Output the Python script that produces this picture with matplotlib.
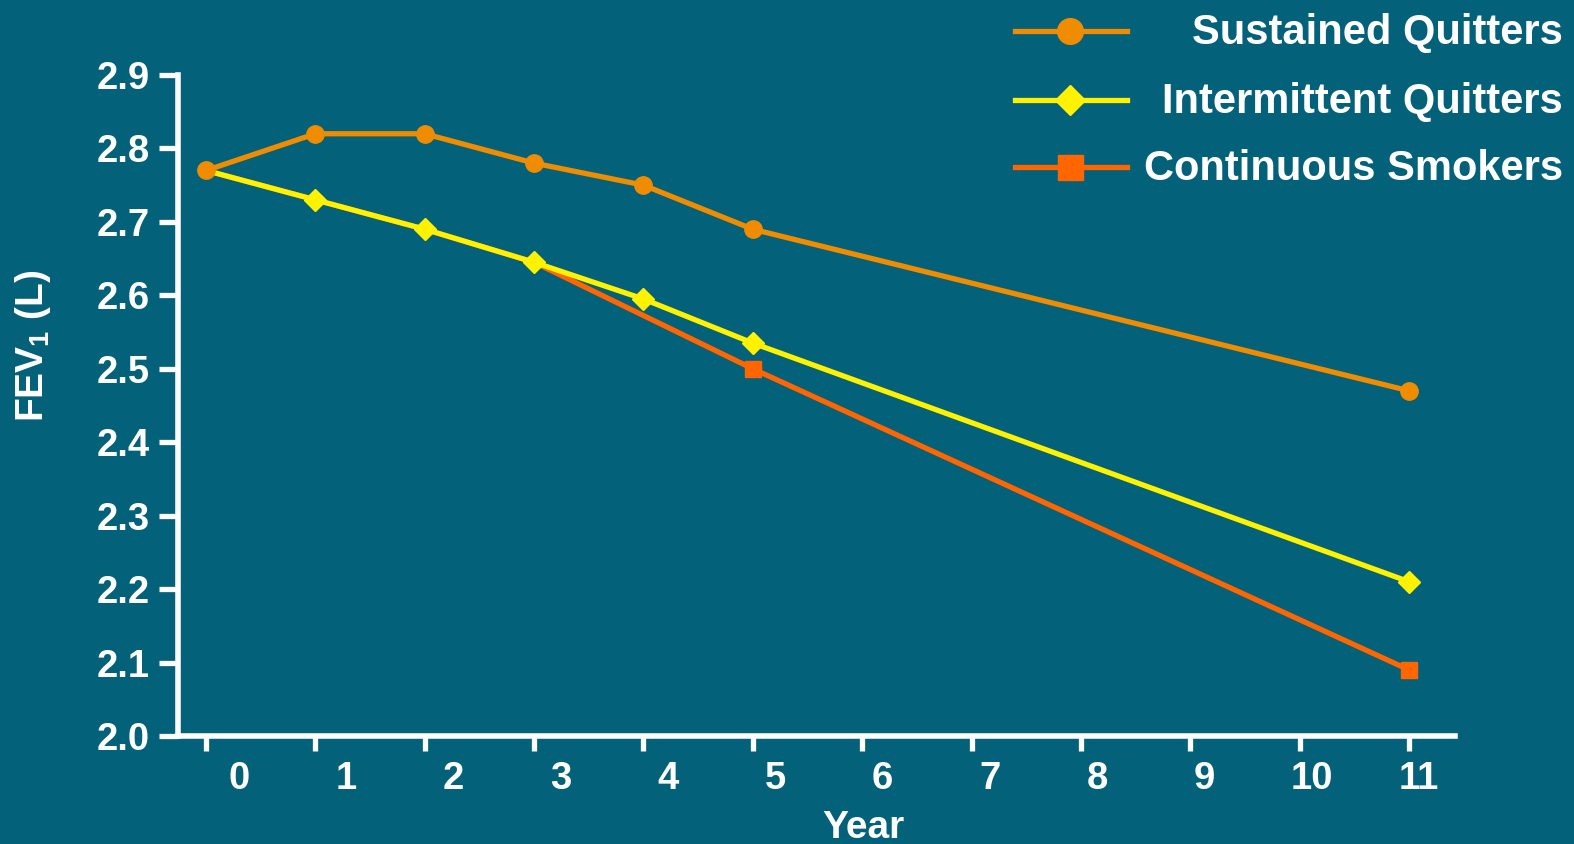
"""FEV1 decline over eleven years by smoking status."""

import matplotlib

matplotlib.use("Agg")
import matplotlib.pyplot as plt
import matplotlib.transforms as mtransforms

# lung function (FEV1, litres) by year of follow-up
sustained_years = [0, 1, 2, 3, 4, 5, 11]
sustained_fev1 = [2.77, 2.82, 2.82, 2.78, 2.75, 2.69, 2.47]

intermittent_years = [0, 1, 2, 3, 4, 5, 11]
intermittent_fev1 = [2.77, 2.73, 2.69, 2.645, 2.595, 2.535, 2.21]

smokers_years = [0, 1, 2, 3, 5, 11]
smokers_fev1 = [2.77, 2.73, 2.69, 2.645, 2.50, 2.09]

year_ticks = list(range(12))
fev_ticks = [2.0, 2.1, 2.2, 2.3, 2.4, 2.5, 2.6, 2.7, 2.8, 2.9]

BG = "#04617A"
ORANGE = "#F08C00"
YELLOW = "#FFF200"
RED_ORANGE = "#FF6600"
WHITE = "white"

plt.rcParams["font.family"] = ["Liberation Sans", "DejaVu Sans"]
plt.rcParams["font.weight"] = "bold"
plt.rcParams["mathtext.fontset"] = "custom"
plt.rcParams["mathtext.rm"] = "Liberation Sans"
plt.rcParams["mathtext.bf"] = "Liberation Sans:bold"

W, H = 1574, 844
fig = plt.figure(figsize=(W / 100, H / 100), dpi=100, facecolor=BG)
ax = fig.add_axes([178 / W, 108 / H, 1277 / W, 661 / H])
ax.set_facecolor(BG)

ax.plot(smokers_years, smokers_fev1, color=RED_ORANGE, lw=3.8,
        marker="s", ms=12, markevery=[4, 5], zorder=3)
ax.plot(intermittent_years, intermittent_fev1, color=YELLOW, lw=3.8,
        marker="D", ms=11.5, markevery=slice(1, None), zorder=4)
ax.plot(sustained_years, sustained_fev1, color=ORANGE, lw=3.8,
        marker="o", ms=12.5, zorder=5)

ax.set_xlim(-0.256, 11.42)
ax.set_ylim(2.0, 2.9)
ax.set_xticks(year_ticks)
ax.set_xticklabels([str(y) for y in year_ticks])
ax.set_yticks(fev_ticks)
ax.set_yticklabels([f"{v:.1f}" for v in fev_ticks])

for side in ("top", "right"):
    ax.spines[side].set_visible(False)
for side in ("left", "bottom"):
    ax.spines[side].set_color(WHITE)
    ax.spines[side].set_linewidth(4)

ax.tick_params(axis="x", colors=WHITE, length=11, width=3.8, pad=7,
               labelsize=27.5)
ax.tick_params(axis="y", colors=WHITE, length=14, width=3.8, pad=6,
               labelsize=27.5)

# year labels sit to the right of their ticks, less so towards the end
for i, lbl in enumerate(ax.get_xticklabels()):
    dx = (33 - 2.1 * i) / 100
    shift = mtransforms.ScaledTranslation(dx, 0, fig.dpi_scale_trans)
    lbl.set_transform(lbl.get_transform() + shift)

fig.text(33 / W, 1 - 346 / H, r"FEV$_1$ (L)", rotation=90,
         ha="center", va="center", color=WHITE, fontsize=28,
         fontweight="bold")
fig.text(863 / W, 1 - 838 / H, "Year", ha="center", va="baseline",
         color=WHITE, fontsize=28, fontweight="bold")

# legend drawn on an overlay in pixel units, labels right-aligned
lax = fig.add_axes([0, 0, 1, 1])
lax.set_xlim(0, W)
lax.set_ylim(H, 0)
lax.axis("off")
legend_rows = [
    ("Sustained Quitters", ORANGE, "o", 18.5, 31),
    ("Intermittent Quitters", YELLOW, "D", 15, 100),
    ("Continuous Smokers", RED_ORANGE, "s", 18, 167),
]
for label, colour, marker, size, y in legend_rows:
    lax.plot([1015, 1070, 1127], [y, y, y], color=colour, lw=3.8,
             marker=marker, ms=size, markevery=[1])
    lax.text(1563, y + 13, label, ha="right", va="baseline", color=WHITE,
             fontsize=30, fontweight="bold")

fig.savefig("out.png", dpi=100, facecolor=BG)
